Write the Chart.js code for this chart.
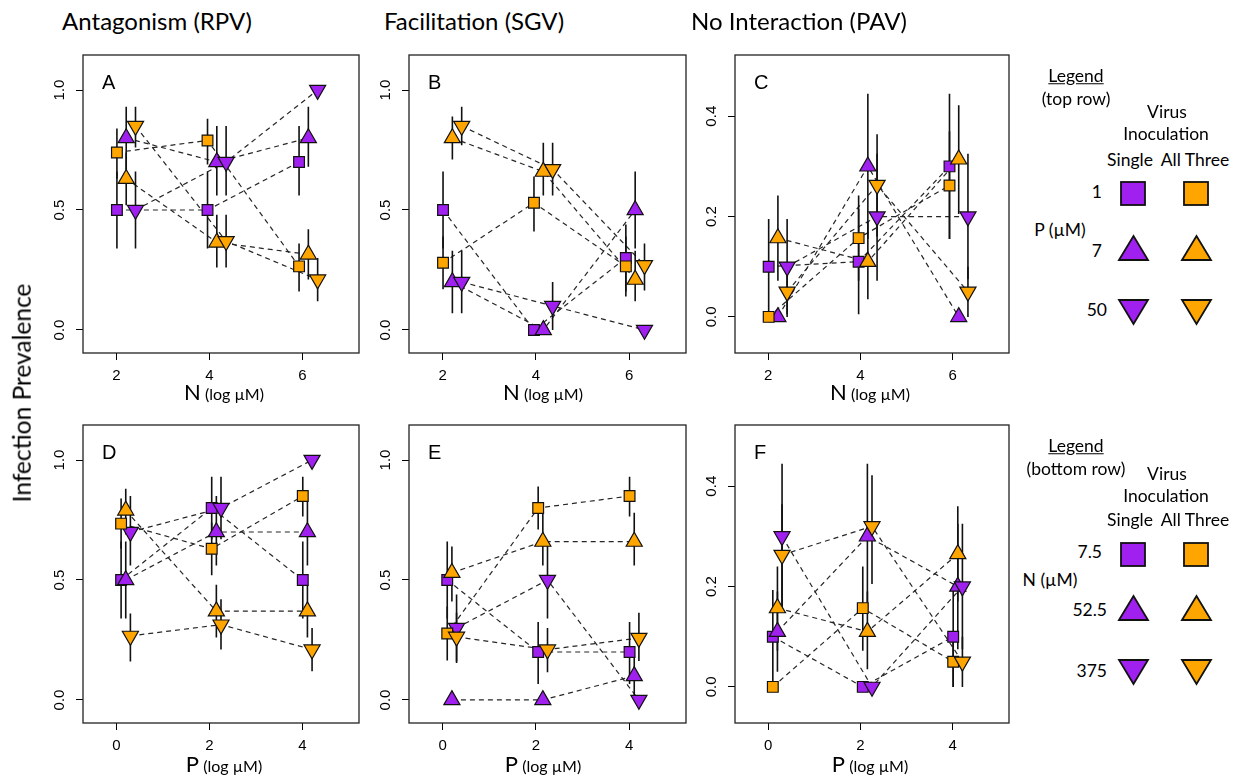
<!DOCTYPE html>
<html><head><meta charset="utf-8">
<script src="https://cdn.jsdelivr.net/npm/chart.js@4"></script>
<style>
html,body{margin:0;padding:0;background:#fff;}
body{width:1234px;height:780px;position:relative;overflow:hidden;font-family:Lato,'Open Sans',sans-serif;color:#000;}
.t{position:absolute;white-space:nowrap;line-height:1;transform:translate(-50%,-50%);}
.r{position:absolute;white-space:nowrap;line-height:1;transform:translate(-100%,-50%);}
.pl{position:absolute;font-family:'Liberation Sans',Arial,sans-serif;font-size:20px;line-height:20px;}
canvas{position:absolute;}
svg{position:absolute;overflow:visible;}
.lg{font-size:17.5px;}
</style></head><body>
<script>
// ---------- DATA ----------
// x positions: natural log of concentrations (top row: N, bottom row: P)
const topXLevels = [2.01, 3.96, 5.93];
const botXLevels = [0.00, 1.95, 3.91];
const topXTicks = [2, 4, 6];
const botXTicks = [0, 2, 4];
const yTicksRPV = [0, 0.5, 1.0];
const yTicksSGV = [0, 0.5, 1.0];
const yTicksPAV = [0, 0.2, 0.4];

const columnTitles = ['Antagonism (RPV)', 'Facilitation (SGV)', 'No Interaction (PAV)'];
const panelLetters = ['A', 'B', 'C', 'D', 'E', 'F'];

// series: p = purple (single), o = orange (all three); s = square, u = up triangle, d = down triangle
// Panel A (RPV, vs N)
const A_ps = [0.50, 0.50, 0.70], A_ps_lo = [0.34, 0.34, 0.56], A_ps_hi = [0.66, 0.66, 0.85];
const A_pu = [0.80, 0.70, 0.80], A_pu_lo = [0.67, 0.56, 0.68], A_pu_hi = [0.93, 0.85, 0.93];
const A_pd = [0.50, 0.70, 1.00], A_pd_lo = [0.34, 0.56, 1.00], A_pd_hi = [0.66, 0.85, 1.00];
const A_os = [0.74, 0.79, 0.265], A_os_lo = [0.63, 0.69, 0.16], A_os_hi = [0.84, 0.88, 0.36];
const A_ou = [0.63, 0.365, 0.315], A_ou_lo = [0.52, 0.26, 0.21], A_ou_hi = [0.74, 0.48, 0.42];
const A_od = [0.85, 0.37, 0.21], A_od_lo = [0.76, 0.26, 0.12], A_od_hi = [0.93, 0.48, 0.30];
// Panel B (SGV, vs N)
const B_ps = [0.50, 0.00, 0.30], B_ps_lo = [0.34, 0.00, 0.16], B_ps_hi = [0.66, 0.00, 0.44];
const B_pu = [0.20, 0.00, 0.50], B_pu_lo = [0.07, 0.00, 0.34], B_pu_hi = [0.33, 0.00, 0.66];
const B_pd = [0.20, 0.10, 0.00], B_pd_lo = [0.07, 0.00, 0.00], B_pd_hi = [0.33, 0.20, 0.00];
const B_os = [0.28, 0.53, 0.265], B_os_lo = [0.17, 0.41, 0.14], B_os_hi = [0.39, 0.64, 0.39];
const B_ou = [0.80, 0.66, 0.21], B_ou_lo = [0.71, 0.56, 0.12], B_ou_hi = [0.89, 0.78, 0.33];
const B_od = [0.85, 0.67, 0.27], B_od_lo = [0.77, 0.56, 0.165], B_od_hi = [0.93, 0.78, 0.36];
// Panel C (PAV, vs N)
const C_ps = [0.10, 0.11, 0.30], C_ps_lo = [0.005, 0.005, 0.155], C_ps_hi = [0.195, 0.215, 0.445];
const C_pu = [0.00, 0.30, 0.00], C_pu_lo = [0.00, 0.155, 0.00], C_pu_hi = [0.00, 0.445, 0.00];
const C_pd = [0.10, 0.20, 0.20], C_pd_lo = [0.005, 0.072, 0.075], C_pd_hi = [0.195, 0.325, 0.325];
const C_os = [0.00, 0.157, 0.262], C_os_lo = [0.00, 0.072, 0.155], C_os_hi = [0.00, 0.242, 0.37];
const C_ou = [0.157, 0.11, 0.314], C_ou_lo = [0.072, 0.035, 0.205], C_ou_hi = [0.242, 0.19, 0.422];
const C_od = [0.05, 0.263, 0.05], C_od_lo = [0.00, 0.16, 0.00], C_od_hi = [0.10, 0.364, 0.10];
// Panel D (RPV, vs P)
const D_ps = [0.50, 0.80, 0.50], D_ps_lo = [0.34, 0.67, 0.34], D_ps_hi = [0.66, 0.93, 0.66];
const D_pu = [0.50, 0.70, 0.70], D_pu_lo = [0.34, 0.56, 0.56], D_pu_hi = [0.66, 0.85, 0.83];
const D_pd = [0.70, 0.80, 1.00], D_pd_lo = [0.56, 0.67, 1.00], D_pd_hi = [0.85, 0.93, 1.00];
const D_os = [0.735, 0.63, 0.85], D_os_lo = [0.63, 0.52, 0.765], D_os_hi = [0.84, 0.74, 0.93];
const D_ou = [0.79, 0.37, 0.37], D_ou_lo = [0.69, 0.26, 0.26], D_ou_hi = [0.88, 0.48, 0.48];
const D_od = [0.267, 0.314, 0.21], D_od_lo = [0.16, 0.21, 0.12], D_od_hi = [0.36, 0.42, 0.30];
// Panel E (SGV, vs P)
const E_ps = [0.50, 0.20, 0.20], E_ps_lo = [0.34, 0.067, 0.067], E_ps_hi = [0.66, 0.325, 0.325];
const E_pu = [0.00, 0.00, 0.10], E_pu_lo = [0.00, 0.00, 0.00], E_pu_hi = [0.00, 0.00, 0.20];
const E_pd = [0.30, 0.50, 0.00], E_pd_lo = [0.16, 0.34, 0.00], E_pd_hi = [0.44, 0.66, 0.00];
const E_os = [0.277, 0.80, 0.85], E_os_lo = [0.165, 0.71, 0.765], E_os_hi = [0.39, 0.89, 0.93];
const E_ou = [0.53, 0.66, 0.66], E_ou_lo = [0.41, 0.56, 0.56], E_ou_hi = [0.64, 0.78, 0.78];
const E_od = [0.263, 0.21, 0.258], E_od_lo = [0.154, 0.116, 0.162], E_od_hi = [0.363, 0.30, 0.363];
// Panel F (PAV, vs P)
const F_ps = [0.10, 0.00, 0.10], F_ps_lo = [0.005, 0.00, 0.00], F_ps_hi = [0.193, 0.00, 0.20];
const F_pu = [0.11, 0.30, 0.20], F_pu_lo = [0.03, 0.155, 0.075], F_pu_hi = [0.19, 0.445, 0.325];
const F_pd = [0.30, 0.00, 0.20], F_pd_lo = [0.155, 0.00, 0.075], F_pd_hi = [0.445, 0.00, 0.325];
const F_os = [0.00, 0.157, 0.05], F_os_lo = [0.00, 0.072, 0.00], F_os_hi = [0.00, 0.24, 0.10];
const F_ou = [0.157, 0.11, 0.265], F_ou_lo = [0.072, 0.035, 0.17], F_ou_hi = [0.24, 0.19, 0.36];
const F_od = [0.263, 0.32, 0.05], F_od_lo = [0.16, 0.205, 0.00], F_od_hi = [0.364, 0.422, 0.10];

// ---------- STYLE / LAYOUT ----------
const PURPLE = '#A020F0', ORANGE = '#FFA500';
const SERIES_STYLE = [
  {shape: 0, color: PURPLE}, {shape: 1, color: PURPLE}, {shape: 2, color: PURPLE},
  {shape: 0, color: ORANGE}, {shape: 1, color: ORANGE}, {shape: 2, color: ORANGE}
];
const AW = 60, AH = 45, PT = 4, PR = 4;
const panels = [
  {L: 83,  T: 55,  W: 276, H: 298, xr: [1.28, 7.22], yr: [-0.096, 1.146], xl: topXLevels, offs: [0, 0.2, 0.4], xt: topXTicks, yt: yTicksRPV,
   s: [[A_ps, A_ps_lo, A_ps_hi], [A_pu, A_pu_lo, A_pu_hi], [A_pd, A_pd_lo, A_pd_hi], [A_os, A_os_lo, A_os_hi], [A_ou, A_ou_lo, A_ou_hi], [A_od, A_od_lo, A_od_hi]]},
  {L: 409, T: 55,  W: 277, H: 298, xr: [1.28, 7.22], yr: [-0.096, 1.146], xl: topXLevels, offs: [0, 0.2, 0.4], xt: topXTicks, yt: yTicksSGV,
   s: [[B_ps, B_ps_lo, B_ps_hi], [B_pu, B_pu_lo, B_pu_hi], [B_pd, B_pd_lo, B_pd_hi], [B_os, B_os_lo, B_os_hi], [B_ou, B_ou_lo, B_ou_hi], [B_od, B_od_lo, B_od_hi]]},
  {L: 735, T: 55,  W: 274, H: 298, xr: [1.28, 7.22], yr: [-0.072, 0.522], xl: topXLevels, offs: [0, 0.2, 0.4], xt: topXTicks, yt: yTicksPAV,
   s: [[C_ps, C_ps_lo, C_ps_hi], [C_pu, C_pu_lo, C_pu_hi], [C_pd, C_pd_lo, C_pd_hi], [C_os, C_os_lo, C_os_hi], [C_ou, C_ou_lo, C_ou_hi], [C_od, C_od_lo, C_od_hi]]},
  {L: 83,  T: 425, W: 276, H: 298, xr: [-0.72, 5.22], yr: [-0.096, 1.146], xl: botXLevels, offs: [0.1, 0.2, 0.3], xt: botXTicks, yt: yTicksRPV,
   s: [[D_ps, D_ps_lo, D_ps_hi], [D_pu, D_pu_lo, D_pu_hi], [D_pd, D_pd_lo, D_pd_hi], [D_os, D_os_lo, D_os_hi], [D_ou, D_ou_lo, D_ou_hi], [D_od, D_od_lo, D_od_hi]]},
  {L: 409, T: 425, W: 277, H: 298, xr: [-0.72, 5.22], yr: [-0.096, 1.146], xl: botXLevels, offs: [0.1, 0.2, 0.3], xt: botXTicks, yt: yTicksSGV,
   s: [[E_ps, E_ps_lo, E_ps_hi], [E_pu, E_pu_lo, E_pu_hi], [E_pd, E_pd_lo, E_pd_hi], [E_os, E_os_lo, E_os_hi], [E_ou, E_ou_lo, E_ou_hi], [E_od, E_od_lo, E_od_hi]]},
  {L: 735, T: 425, W: 274, H: 298, xr: [-0.72, 5.22], yr: [-0.072, 0.522], xl: botXLevels, offs: [0.1, 0.2, 0.3], xt: botXTicks, yt: yTicksPAV,
   s: [[F_ps, F_ps_lo, F_ps_hi], [F_pu, F_pu_lo, F_pu_hi], [F_pd, F_pd_lo, F_pd_hi], [F_os, F_os_lo, F_os_hi], [F_ou, F_ou_lo, F_ou_hi], [F_od, F_od_lo, F_od_hi]]}
];

const boxPlugin = {
  id: 'rbox',
  afterDatasetsDraw(chart) {
    const {ctx, chartArea: a} = chart;
    ctx.save();
    ctx.strokeStyle = '#222';
    ctx.lineWidth = 1.3;
    ctx.strokeRect(a.left, a.top, a.right - a.left, a.bottom - a.top);
    ctx.restore();
  }
};
function yLabelPlugin(ticks) {
  return {
    id: 'ylab',
    afterDraw(chart) {
      const {ctx, chartArea: a} = chart;
      const ys = chart.scales.y;
      ctx.save();
      ctx.fillStyle = '#000';
      ctx.font = '15px "Liberation Sans", Arial, sans-serif';
      ctx.textAlign = 'center';
      ctx.textBaseline = 'middle';
      ticks.forEach(v => {
        const py = ys.getPixelForValue(v);
        ctx.save();
        ctx.translate(a.left - 23, py);
        ctx.rotate(-Math.PI / 2);
        ctx.fillText(v.toFixed(1), 0, 0);
        ctx.restore();
      });
      ctx.restore();
    }
  };
}

panels.forEach((p, pi) => {
  const cv = document.createElement('canvas');
  const cw = p.W + AW + PR, ch = p.H + PT + AH;
  cv.width = cw; cv.height = ch;
  cv.style.left = (p.L - AW) + 'px';
  cv.style.top = (p.T - PT) + 'px';
  cv.style.width = cw + 'px';
  cv.style.height = ch + 'px';
  document.body.appendChild(cv);

  const datasets = [];
  p.s.forEach((ser, si) => {
    const st = SERIES_STYLE[si];
    const [vals, lo, hi] = ser;
    const xs = p.xl.map(x => x + p.offs[st.shape]);
    const pts = xs.map((x, i) => ({x: x, y: vals[i]}));
    datasets.push({
      data: pts, showLine: true, borderColor: '#262626', borderWidth: 1.2, borderDash: [5, 4],
      pointRadius: 0, fill: false, tension: 0, order: 100
    });
    const eb = [];
    xs.forEach((x, i) => { eb.push({x: x, y: lo[i]}, {x: x, y: hi[i]}, {x: x, y: null}); });
    datasets.push({
      data: eb, showLine: true, spanGaps: false, borderColor: '#111', borderWidth: 1.6,
      pointRadius: 0, fill: false, order: 50
    });
    datasets.push({
      data: pts, showLine: false,
      pointStyle: st.shape === 0 ? 'rect' : 'triangle',
      pointRotation: st.shape === 2 ? 180 : 0,
      pointRadius: st.shape === 0 ? 7.6 : 9.3,
      pointBackgroundColor: st.color, pointBorderColor: '#111', pointBorderWidth: 1.2,
      order: 10 - si
    });
  });

  new Chart(cv, {
    type: 'scatter',
    data: {datasets},
    options: {
      responsive: false, animation: false, events: [],
      layout: {padding: {left: 0, top: PT, right: PR, bottom: 0}, autoPadding: false},
      plugins: {legend: {display: false}, tooltip: {enabled: false}},
      scales: {
        x: {
          type: 'linear', min: p.xr[0], max: p.xr[1],
          afterBuildTicks: s => { s.ticks = p.xt.map(v => ({value: v})); },
          afterFit: s => { s.height = AH; },
          grid: {drawOnChartArea: false, drawTicks: true, tickLength: 7, color: '#000', lineWidth: 1},
          border: {display: false},
          ticks: {font: {family: 'Liberation Sans', size: 15}, color: '#000', padding: 7, maxRotation: 0, autoSkip: false,
                  callback: v => String(v)}
        },
        y: {
          type: 'linear', min: p.yr[0], max: p.yr[1],
          afterBuildTicks: s => { s.ticks = p.yt.map(v => ({value: v})); },
          afterFit: s => { s.width = AW; },
          grid: {drawOnChartArea: false, drawTicks: true, tickLength: 7, color: '#000', lineWidth: 1},
          border: {display: false},
          ticks: {display: false}
        }
      }
    },
    plugins: [boxPlugin, yLabelPlugin(p.yt)]
  });

  const lt = document.createElement('div');
  lt.className = 'pl';
  lt.textContent = panelLetters[pi];
  lt.style.left = (p.L + 19) + 'px';
  lt.style.top = (p.T + 16.5) + 'px';
  document.body.appendChild(lt);
});

// column titles
const titleX = [157, 474, 799];
columnTitles.forEach((t, i) => {
  const d = document.createElement('div');
  d.className = 't';
  d.style.left = titleX[i] + 'px';
  d.style.top = '21px';
  d.style.fontSize = '24px';
  d.textContent = t;
  document.body.appendChild(d);
});
</script>

<div class="t" style="left:22px;top:393px;font-size:24.5px;transform:translate(-50%,-50%) rotate(-90deg);">Infection Prevalence</div>

<div class="t" style="left:224px;top:392px;"><span style="font-size:22px">N</span> <span style="font-size:16px">(log µM)</span></div>
<div class="t" style="left:543px;top:392px;"><span style="font-size:22px">N</span> <span style="font-size:16px">(log µM)</span></div>
<div class="t" style="left:870px;top:392px;"><span style="font-size:22px">N</span> <span style="font-size:16px">(log µM)</span></div>
<div class="t" style="left:224px;top:764px;"><span style="font-size:22px">P</span> <span style="font-size:16px">(log µM)</span></div>
<div class="t" style="left:543px;top:764px;"><span style="font-size:22px">P</span> <span style="font-size:16px">(log µM)</span></div>
<div class="t" style="left:870px;top:764px;"><span style="font-size:22px">P</span> <span style="font-size:16px">(log µM)</span></div>

<!-- legend top -->
<div class="t lg" style="left:1076px;top:76px;text-decoration:underline;">Legend</div>
<div class="t lg" style="left:1076px;top:99px;">(top row)</div>
<div class="t lg" style="left:1167px;top:112px;">Virus</div>
<div class="t lg" style="left:1166px;top:134px;">Inoculation</div>
<div class="t lg" style="left:1130px;top:160px;">Single</div>
<div class="t lg" style="left:1195px;top:160px;">All Three</div>
<div class="r lg" style="left:1102px;top:192px;">1</div>
<div class="t lg" style="left:1060px;top:230px;">P (µM)</div>
<div class="r lg" style="left:1102px;top:251px;">7</div>
<div class="r lg" style="left:1107px;top:310px;">50</div>
<svg style="left:1120px;top:181px" width="26" height="25"><rect x="1" y="1" width="24" height="23" fill="#A020F0" stroke="#111" stroke-width="1.8"/></svg>
<svg style="left:1183px;top:181px" width="26" height="25"><rect x="1" y="1" width="24" height="23" fill="#FFA500" stroke="#111" stroke-width="1.8"/></svg>
<svg style="left:1118px;top:235px" width="31" height="26"><polygon points="1,25 15.5,1 30,25" fill="#A020F0" stroke="#111" stroke-width="1.8"/></svg>
<svg style="left:1181px;top:235px" width="31" height="26"><polygon points="1,25 15.5,1 30,25" fill="#FFA500" stroke="#111" stroke-width="1.8"/></svg>
<svg style="left:1118px;top:299px" width="31" height="26"><polygon points="1,1 30,1 15.5,25" fill="#A020F0" stroke="#111" stroke-width="1.8"/></svg>
<svg style="left:1181px;top:299px" width="31" height="26"><polygon points="1,1 30,1 15.5,25" fill="#FFA500" stroke="#111" stroke-width="1.8"/></svg>

<!-- legend bottom -->
<div class="t lg" style="left:1076px;top:446px;text-decoration:underline;">Legend</div>
<div class="t lg" style="left:1076px;top:469px;">(bottom row)</div>
<div class="t lg" style="left:1167px;top:474px;">Virus</div>
<div class="t lg" style="left:1166px;top:496px;">Inoculation</div>
<div class="t lg" style="left:1130px;top:520px;">Single</div>
<div class="t lg" style="left:1195px;top:520px;">All Three</div>
<div class="r lg" style="left:1102px;top:552px;">7.5</div>
<div class="t lg" style="left:1050px;top:580px;">N (µM)</div>
<div class="r lg" style="left:1107px;top:610px;">52.5</div>
<div class="r lg" style="left:1107px;top:671px;">375</div>
<svg style="left:1120px;top:542px" width="26" height="25"><rect x="1" y="1" width="24" height="23" fill="#A020F0" stroke="#111" stroke-width="1.8"/></svg>
<svg style="left:1183px;top:542px" width="26" height="25"><rect x="1" y="1" width="24" height="23" fill="#FFA500" stroke="#111" stroke-width="1.8"/></svg>
<svg style="left:1118px;top:595px" width="31" height="26"><polygon points="1,25 15.5,1 30,25" fill="#A020F0" stroke="#111" stroke-width="1.8"/></svg>
<svg style="left:1181px;top:595px" width="31" height="26"><polygon points="1,25 15.5,1 30,25" fill="#FFA500" stroke="#111" stroke-width="1.8"/></svg>
<svg style="left:1118px;top:659px" width="31" height="26"><polygon points="1,1 30,1 15.5,25" fill="#A020F0" stroke="#111" stroke-width="1.8"/></svg>
<svg style="left:1181px;top:659px" width="31" height="26"><polygon points="1,1 30,1 15.5,25" fill="#FFA500" stroke="#111" stroke-width="1.8"/></svg>
</body></html>
